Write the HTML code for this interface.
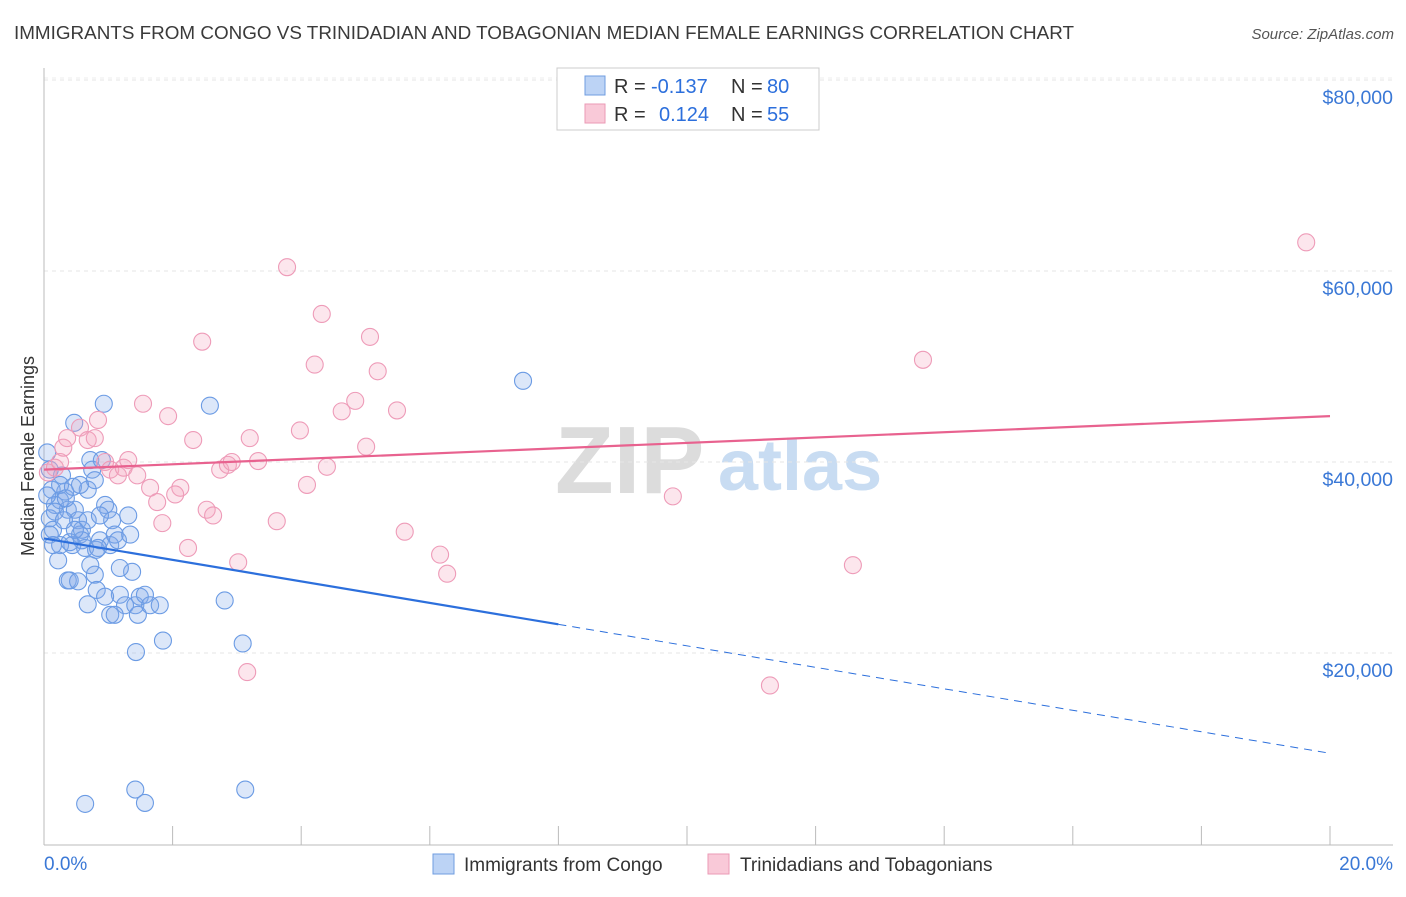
<!DOCTYPE html>
<html><head><meta charset="utf-8">
<style>
body{margin:0;background:#fff;font-family:"Liberation Sans",sans-serif;}
svg text{font-family:"Liberation Sans",sans-serif;}
</style></head>
<body>
<svg id="chart" width="1406" height="892" viewBox="0 0 1406 892" xmlns="http://www.w3.org/2000/svg">
<text x="14" y="39" font-size="18.8" fill="#3a3a3a" textLength="1060" lengthAdjust="spacingAndGlyphs">IMMIGRANTS FROM CONGO VS TRINIDADIAN AND TOBAGONIAN MEDIAN FEMALE EARNINGS CORRELATION CHART</text>
<text x="1394" y="39" font-size="15" fill="#555" font-style="italic" text-anchor="end">Source: ZipAtlas.com</text>
<g>
<text x="555" y="493" font-size="96" fill="#dcdcdc" font-family="Liberation Serif" font-weight="bold">ZIP</text>
<text x="718" y="490" font-size="72" fill="#c8dcf2" font-weight="bold">atlas</text>
</g>
<g id="grid"></g>
<g id="axes"></g>
<g id="marks"></g>
<text transform="translate(34,456) rotate(-90)" font-size="18" fill="#333" text-anchor="middle">Median Female Earnings</text>
<g>
<rect x="557" y="68" width="262" height="62" fill="#fff" stroke="#ccc"/>
<rect x="585" y="76" width="20" height="19" fill="#bcd3f5" stroke="#6f9ce0"/>
<rect x="585" y="104" width="20" height="19" fill="#f9c9d8" stroke="#eb9ab6"/>
<text x="614" y="93" font-size="20" fill="#333">R =</text>
<text x="651" y="93" font-size="20" fill="#2c6fdc">-0.137</text>
<text x="731" y="93" font-size="20" fill="#333">N =</text>
<text x="767" y="93" font-size="20" fill="#2c6fdc">80</text>
<text x="614" y="121" font-size="20" fill="#333">R =</text>
<text x="659" y="121" font-size="20" fill="#2c6fdc">0.124</text>
<text x="731" y="121" font-size="20" fill="#333">N =</text>
<text x="767" y="121" font-size="20" fill="#2c6fdc">55</text>
</g>
<g>
<rect x="433" y="854" width="21" height="20" fill="#bcd3f5" stroke="#6f9ce0"/>
<text x="464" y="871" font-size="19" fill="#333">Immigrants from Congo</text>
<rect x="708" y="854" width="21" height="20" fill="#f9c9d8" stroke="#eb9ab6"/>
<text x="740" y="871" font-size="19" fill="#333">Trinidadians and Tobagonians</text>
</g>
</svg>
<script>
const yTicks=[20000,40000,60000,80000];
const yTickLabels=["$20,000","$40,000","$60,000","$80,000"];
const xTickLabels=["0.0%","20.0%"];
const blueX=[0.05,0.09,0.12,0.17,0.09,0.14,0.25,0.28,0.33,0.37,0.25,0.22,0.37,0.44,0.47,0.48,0.53,0.56,0.59,0.64,0.68,0.68,0.72,0.75,0.79,0.81,0.79,0.82,0.87,0.90,0.93,0.95,1.00,1.03,1.06,1.10,1.15,1.18,1.26,1.31,1.34,1.37,1.42,1.46,1.49,1.57,1.65,1.80,1.43,1.85,2.58,2.81,3.09,7.45,0.64,1.42,1.57,3.13,0.40,0.53,0.09,0.17,0.25,0.34,0.45,0.56,0.84,1.03,0.68,1.18,0.95,1.10,0.14,0.59,0.40,0.31,0.87,0.48,0.72,0.05];
const blueY=[41.0,39.2,37.1,35.5,34.1,32.9,36.0,38.6,36.9,35.0,31.3,29.7,27.6,31.3,44.1,35.0,33.9,32.4,32.9,31.0,33.9,37.1,40.2,39.2,38.1,30.8,28.2,26.6,31.8,40.2,46.1,35.5,35.0,31.3,33.9,32.4,31.8,26.1,25.0,34.4,32.4,28.5,25.0,24.0,25.9,26.1,25.0,25.0,20.1,21.3,45.9,25.5,21.0,48.5,4.2,5.7,4.3,5.7,27.6,27.5,32.4,34.8,37.6,36.2,37.4,37.6,31.0,24.0,25.1,28.9,25.9,24.0,31.3,31.8,31.6,33.9,34.4,32.9,29.2,36.5];
const pinkX=[0.06,0.17,0.25,0.30,0.36,0.56,0.68,0.79,0.84,0.95,1.03,1.15,1.24,1.31,1.45,1.54,1.65,1.76,1.84,1.93,2.12,2.04,2.24,2.32,2.46,2.53,2.63,2.74,2.86,2.92,3.02,3.16,3.20,3.33,3.62,3.78,4.09,3.98,4.21,4.32,4.40,4.63,4.84,5.07,5.19,5.01,5.49,5.61,6.16,6.27,9.78,11.29,12.58,13.67,19.63];
const pinkY=[38.9,39.4,40.0,41.5,42.5,43.6,42.3,42.5,44.4,40.0,39.2,38.6,39.4,40.2,38.6,46.1,37.3,35.8,33.6,44.8,37.3,36.6,31.0,42.3,52.6,35.0,34.4,39.2,39.7,40.0,29.5,18.0,42.5,40.1,33.8,60.4,37.6,43.3,50.2,55.5,39.5,45.3,46.4,53.1,49.5,41.6,45.4,32.7,30.3,28.3,36.4,16.6,29.2,50.7,63.0];
const blueTrend=[32.0,9.5]; const blueSolidEnd=8;
const pinkTrend=[39.2,44.8];

const NS="http://www.w3.org/2000/svg";
const sx=v=>44+v*64.3;
const sy=v=>844-v*9.55;
function mk(tag,attrs,parent){const e=document.createElementNS(NS,tag);for(const k in attrs)e.setAttribute(k,attrs[k]);document.getElementById(parent).appendChild(e);return e;}

yTicks.forEach((t,i)=>{
 const g=mk('line',{x1:44,x2:1393,y1:sy(t/1000),y2:sy(t/1000),stroke:'#e6e6e6','stroke-dasharray':'4,4'},'grid');
 
 
 const l=mk('text',{x:1393,y:sy(t/1000)+24,'font-size':19.5,fill:'#3a78d6','text-anchor':'end'},'axes');
 l.textContent=yTickLabels[i];
 
 
});
const topGrid=mk('line',{x1:44,x2:1393,y1:78,y2:78,stroke:'#ececec','stroke-dasharray':'4,4'},'grid');


const ya=mk('line',{x1:44,x2:44,y1:68,y2:845,stroke:'#bbb'},'axes');


const xa=mk('line',{x1:44,x2:1393,y1:845,y2:845,stroke:'#bbb'},'axes');


for(let i=0;i<=10;i++){
 const tk=mk('line',{x1:sx(i*2),x2:sx(i*2),y1:826,y2:845,stroke:'#bbb'},'axes');
 
 
}
const xl0=mk('text',{x:44,y:870,'font-size':19,fill:'#3a78d6'},'axes');xl0.textContent=xTickLabels[0];


const xl1=mk('text',{x:1393,y:870,'font-size':19,fill:'#3a78d6','text-anchor':'end'},'axes');xl1.textContent=xTickLabels[1];



blueX.forEach((x,i)=>{
 const c=mk('circle',{cx:sx(x),cy:sy(blueY[i]),r:8.5,fill:'rgba(130,170,235,0.28)',stroke:'#6b9be4','stroke-width':1.1},'marks');
 
 
});
pinkX.forEach((x,i)=>{
 const c=mk('circle',{cx:sx(x),cy:sy(pinkY[i]),r:8.5,fill:'rgba(245,165,190,0.28)',stroke:'#ee9bb8','stroke-width':1.1},'marks');
 
 
});
const bAt=x=>blueTrend[0]+(blueTrend[1]-blueTrend[0])*x/20;
const b1=mk('line',{x1:sx(0),y1:sy(bAt(0)),x2:sx(blueSolidEnd),y2:sy(bAt(blueSolidEnd)),stroke:'#2c6fdc','stroke-width':2.2},'marks');


const b2=mk('line',{x1:sx(blueSolidEnd),y1:sy(bAt(blueSolidEnd)),x2:sx(20),y2:sy(bAt(20)),stroke:'#2c6fdc','stroke-width':1,'stroke-dasharray':'8,6'},'marks');


const p1=mk('line',{x1:sx(0),y1:sy(pinkTrend[0]),x2:sx(20),y2:sy(pinkTrend[1]),stroke:'#e8628f','stroke-width':2.2},'marks');


</script>
</body></html>
